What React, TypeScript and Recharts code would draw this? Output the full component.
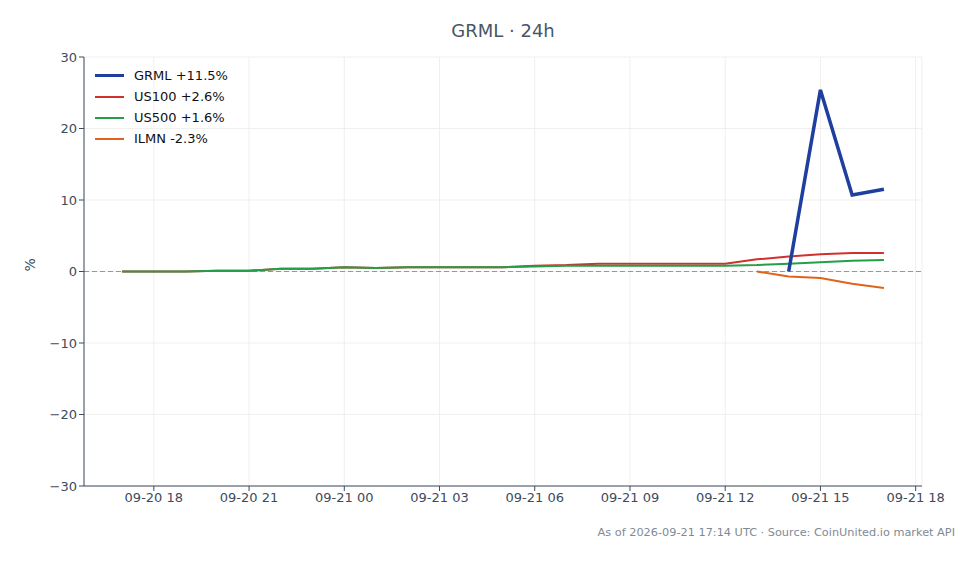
import React from 'react'
import {
  LineChart,
  Line,
  XAxis,
  YAxis,
  CartesianGrid,
  ReferenceLine,
} from 'recharts'

// hours since 09-20 00:00 UTC
const HOURS = [17, 18, 19, 20, 21, 22, 23, 24, 25, 26, 27, 28, 29, 30, 31, 32, 33, 34, 35, 36, 37, 38, 39, 40, 41]
const US100 = [0.0, 0.0, 0.0, 0.1, 0.1, 0.4, 0.4, 0.6, 0.5, 0.6, 0.6, 0.6, 0.6, 0.8, 0.9, 1.1, 1.1, 1.1, 1.1, 1.1, 1.7, 2.1, 2.4, 2.6, 2.6]
const US500 = [0.0, 0.0, 0.0, 0.1, 0.1, 0.4, 0.4, 0.6, 0.5, 0.6, 0.6, 0.6, 0.6, 0.7, 0.8, 0.8, 0.8, 0.8, 0.8, 0.8, 0.9, 1.1, 1.3, 1.5, 1.6]
const ILMN: (number | null)[] = [null, null, null, null, null, null, null, null, null, null, null, null, null, null, null, null, null, null, null, null, 0.0, -0.7, -0.9, -1.7, -2.3]
const GRML: (number | null)[] = [null, null, null, null, null, null, null, null, null, null, null, null, null, null, null, null, null, null, null, null, null, 0.0, 25.4, 10.7, 11.5]

const X_TICKS = [18, 21, 24, 27, 30, 33, 36, 39, 42]
const Y_TICKS = [-30, -20, -10, 0, 10, 20, 30]

const SERIES = [
  { key: 'GRML', label: 'GRML +11.5%', color: '#1f3f9f', width: 3.5 },
  { key: 'US100', label: 'US100 +2.6%', color: '#d0312d', width: 2 },
  { key: 'US500', label: 'US500 +1.6%', color: '#23a047', width: 2 },
  { key: 'ILMN', label: 'ILMN -2.3%', color: '#e0631a', width: 2 },
]

const data = HOURS.map((t, i) => ({
  t,
  GRML: GRML[i],
  US100: US100[i],
  US500: US500[i],
  ILMN: ILMN[i],
}))

const FONT = '"DejaVu Sans", sans-serif'
const AXIS = '#3d4b5c'

function fmtTick(h: number) {
  const day = 20 + Math.floor(h / 24)
  const hr = h % 24
  return `09-${day} ${String(hr).padStart(2, '0')}`
}

export default function App() {
  return (
    <div style={{ position: 'absolute', left: 0, top: 0, width: 979, height: 564, background: '#fff', fontFamily: FONT }}>
      <div style={{ position: 'absolute', left: 84, width: 838, top: 20, textAlign: 'center', fontSize: 18, color: '#4a5566' }}>
        GRML · 24h
      </div>
      <LineChart width={979} height={564} data={data} margin={{ top: 57, right: 57, bottom: 48, left: 34 }}>
        <CartesianGrid stroke="#ebebeb" strokeWidth={0.8} />
        <XAxis
          dataKey="t"
          type="number"
          domain={[15.8, 42.2]}
          ticks={X_TICKS}
          tickFormatter={fmtTick}
          stroke={AXIS}
          tick={{ fill: AXIS, fontSize: 13, fontFamily: FONT }}
          tickSize={5}
          height={30}
          allowDataOverflow
        />
        <YAxis
          type="number"
          domain={[-30, 30]}
          ticks={Y_TICKS}
          tickFormatter={(v: number) => String(v).replace('-', '\u2212')}
          stroke={AXIS}
          tick={{ fill: AXIS, fontSize: 13, fontFamily: FONT }}
          tickSize={5}
          width={50}
          label={{ value: '%', angle: -90, position: 'insideLeft', offset: 0, dx: -4, fill: AXIS, fontSize: 14, fontFamily: FONT }}
        />
        <ReferenceLine y={0} stroke="#8d99ab" strokeDasharray="5 3" strokeWidth={1} />
        <Line dataKey="US100" stroke="#d0312d" strokeWidth={2} dot={false} isAnimationActive={false} />
        <Line dataKey="US500" stroke="#23a047" strokeWidth={2} dot={false} isAnimationActive={false} />
        <Line dataKey="ILMN" stroke="#e0631a" strokeWidth={2} dot={false} isAnimationActive={false} />
        <Line dataKey="GRML" stroke="#1f3f9f" strokeWidth={3.5} strokeLinejoin="miter" dot={false} isAnimationActive={false} />
      </LineChart>
      <div style={{ position: 'absolute', left: 95, top: 65, fontSize: 13, color: '#111' }}>
        {SERIES.map((s) => (
          <div key={s.key} style={{ display: 'flex', alignItems: 'center', height: 21 }}>
            <div style={{ width: 29, height: s.width, background: s.color, marginRight: 10 }} />
            <span>{s.label}</span>
          </div>
        ))}
      </div>
      <div style={{ position: 'absolute', right: 24, top: 526, fontSize: 11.3, color: '#808a96' }}>
        As of 2026-09-21 17:14 UTC · Source: CoinUnited.io market API
      </div>
    </div>
  )
}
